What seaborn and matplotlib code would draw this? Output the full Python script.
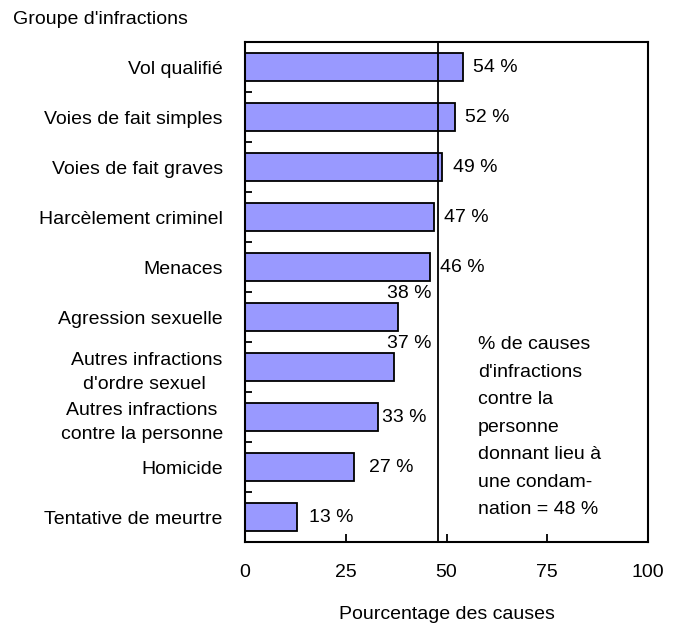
import matplotlib
matplotlib.use("Agg")
import matplotlib.pyplot as plt
import seaborn as sns
import pandas as pd
from matplotlib.ticker import FixedLocator

categories = [
    "Vol qualifié",
    "Voies de fait simples",
    "Voies de fait graves",
    "Harcèlement criminel",
    "Menaces",
    "Agression sexuelle",
    "Autres infractions\nd'ordre sexuel ",
    "Autres infractions\ncontre la personne",
    "Homicide",
    "Tentative de meurtre",
]
values = [54, 52, 49, 47, 46, 38, 37, 33, 27, 13]
value_labels = ["54 %", "52 %", "49 %", "47 %", "46 %", "38 %", "37 %", "33 %", "27 %", "13 %"]
average = 48
xticks = [0, 25, 50, 75, 100]
note = "% de causes\nd'infractions\ncontre la\npersonne\ndonnant lieu à\nune condam-\nnation = 48 %"

sns.set_theme(style="white")
plt.rcParams["font.family"] = ["Liberation Sans", "DejaVu Sans"]
plt.rcParams["text.color"] = "black"
plt.rcParams["axes.labelcolor"] = "black"
plt.rcParams["xtick.color"] = "black"
plt.rcParams["ytick.color"] = "black"

FS = 14
df = pd.DataFrame({"cat": categories, "val": values})

fig = plt.figure(figsize=(6.81, 6.25), dpi=100)
ax = fig.add_axes([245 / 681, 83 / 625, 403 / 681, 500 / 625])

sns.barplot(data=df, x="val", y="cat", orient="h", color="#9999FF",
            edgecolor="black", linewidth=1.3, width=0.56, saturation=1, ax=ax)

ax.axvline(average, color="black", lw=1.3, zorder=3)

ax.set_xlim(0, 100)
ax.set_ylim(len(categories) - 0.5, -0.5)
ax.set_xticks(xticks)
ax.set_xticklabels([str(t) for t in xticks], fontsize=FS)
ax.tick_params(axis="x", direction="in", length=6, width=1.3, pad=16, bottom=True, top=False)
ax.tick_params(axis="y", which="major", length=0, pad=16)
ax.yaxis.set_minor_locator(FixedLocator([i + 0.5 for i in range(len(categories) - 1)]))
ax.tick_params(axis="y", which="minor", direction="in", length=5, width=1.3, left=True)
for lab in ax.get_yticklabels():
    lab.set_fontsize(FS)
    lab.set_multialignment("center")
    lab.set_linespacing(1.55)

ax.set_ylabel("")
ax.set_xlabel("Pourcentage des causes", fontsize=FS, labelpad=18)

for s in ax.spines.values():
    s.set_visible(True)
    s.set_color("black")
    s.set_linewidth(1.5)

# value labels
for i, (v, lab) in enumerate(zip(values, value_labels)):
    if lab in ("38 %", "37 %"):
        ax.text(35.2, i - 0.48, lab, ha="left", va="center", fontsize=FS)
    else:
        off = 2.5
        if v == 33:
            off = 1.0
        elif v == 27:
            off = 3.7
        elif v == 13:
            off = 3.0
        ax.text(v + off, i, lab, ha="left", va="center", fontsize=FS)

ax.text(57.8, 5.38, note, ha="left", va="top", fontsize=FS, linespacing=1.81)

fig.text(13 / 681, 1 - 20 / 625, "Groupe d'infractions", ha="left", va="center", fontsize=FS)

fig.savefig("out.png", dpi=100)
